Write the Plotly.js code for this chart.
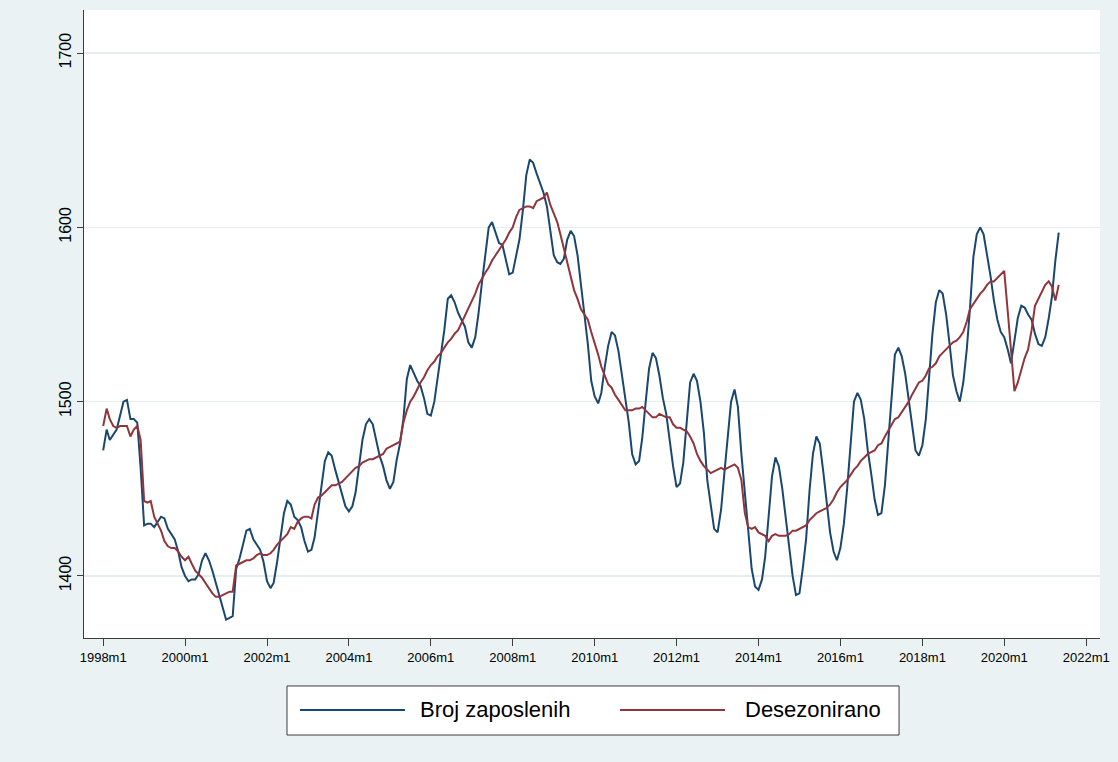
<!DOCTYPE html>
<html><head><meta charset="utf-8">
<script src="https://cdn.plot.ly/plotly-3.0.1.min.js"></script>
<style>html,body{margin:0;padding:0;background:#eaf2f3;} #chart{width:1118px;height:762px;}</style>
</head><body><div id="chart"></div>
<script>
// Monthly data, 1998m1 .. 2021m5
const startYear = 1998;
const brojZaposlenih = [
1472,1484,1478,1481,1484,1492,1500,1501,1490,1490,1488,1462,
1429,1430,1430,1428,1431,1434,1433,1427,1424,1421,1414,1405,
1400,1397,1398,1398,1401,1409,1413,1409,1403,1396,1388,1381,
1375,1376,1377,1404,1410,1418,1426,1427,1421,1418,1415,1408,
1397,1393,1396,1408,1422,1436,1443,1441,1434,1432,1428,1420,
1414,1415,1422,1437,1452,1466,1471,1469,1461,1454,1447,1440,
1437,1440,1448,1462,1478,1487,1490,1487,1477,1469,1463,1455,
1450,1454,1466,1476,1490,1513,1521,1516,1512,1509,1502,1493,
1492,1500,1513,1528,1541,1559,1561,1557,1551,1547,1543,1534,
1531,1537,1550,1568,1585,1600,1603,1597,1591,1590,1581,1573,
1574,1583,1593,1610,1630,1639,1637,1631,1625,1620,1612,1597,
1584,1580,1579,1582,1593,1598,1595,1584,1566,1552,1533,1512,
1503,1499,1505,1520,1532,1540,1538,1529,1516,1503,1488,1470,
1464,1466,1479,1500,1519,1528,1525,1515,1502,1493,1477,1463,
1451,1453,1465,1487,1511,1516,1512,1500,1482,1455,1440,1427,
1425,1438,1458,1480,1500,1507,1497,1470,1446,1424,1404,1394,
1392,1398,1411,1434,1457,1468,1463,1450,1433,1416,1400,1389,
1390,1405,1421,1449,1470,1480,1476,1460,1443,1425,1414,1409,
1416,1430,1450,1475,1500,1505,1501,1490,1472,1459,1444,1435,
1436,1452,1476,1505,1527,1531,1526,1516,1500,1486,1472,1469,
1475,1490,1512,1539,1557,1564,1562,1550,1533,1515,1506,1500,
1511,1530,1553,1583,1596,1600,1596,1585,1572,1558,1547,1540,
1537,1530,1522,1535,1548,1555,1554,1550,1547,1539,1533,1532,
1537,1548,1560,1581,1597
];
const desezonirano = [
1486,1496,1490,1486,1485,1486,1486,1486,1480,1484,1486,1478,
1443,1442,1443,1434,1430,1426,1420,1417,1416,1416,1414,1411,
1409,1411,1407,1403,1401,1399,1396,1393,1390,1388,1388,1389,
1390,1391,1391,1406,1407,1408,1409,1409,1410,1412,1413,1412,
1412,1413,1415,1418,1420,1422,1424,1428,1427,1431,1433,1434,
1434,1433,1441,1445,1446,1448,1450,1452,1452,1453,1454,1456,
1458,1460,1462,1463,1465,1466,1467,1467,1468,1469,1470,1473,
1474,1475,1476,1477,1488,1495,1500,1503,1507,1511,1514,1518,
1521,1523,1526,1528,1531,1534,1536,1539,1541,1545,1549,1553,
1557,1562,1567,1571,1574,1577,1581,1584,1587,1590,1593,1597,
1600,1606,1610,1611,1612,1612,1611,1615,1616,1617,1620,1613,
1608,1603,1596,1588,1580,1571,1564,1559,1553,1550,1547,1540,
1534,1527,1520,1515,1510,1508,1504,1501,1498,1495,1495,1495,
1496,1496,1497,1495,1493,1491,1491,1493,1492,1491,1491,1487,
1485,1485,1484,1483,1480,1476,1470,1466,1463,1461,1459,1460,
1461,1462,1461,1462,1463,1464,1462,1455,1436,1428,1427,1428,
1425,1424,1423,1420,1423,1424,1423,1423,1423,1424,1426,1426,
1427,1428,1429,1432,1434,1436,1437,1438,1439,1441,1444,1448,
1451,1453,1455,1458,1461,1463,1466,1468,1470,1471,1472,1475,
1476,1480,1483,1487,1490,1491,1494,1497,1500,1504,1508,1511,
1512,1515,1519,1520,1522,1526,1528,1530,1532,1534,1535,1537,
1540,1546,1553,1556,1559,1562,1564,1567,1569,1569,1571,1573,
1575,1552,1528,1506,1511,1519,1525,1530,1541,1555,1559,1563,
1567,1569,1566,1558,1567
];
const tickYears = [1998,2000,2002,2004,2006,2008,2010,2012,2014,2016,2018,2020,2022];
const tickLabels = ["1998m1","2000m1","2002m1","2004m1","2006m1","2008m1","2010m1","2012m1","2014m1","2016m1","2018m1","2020m1","2022m1"];
const yTicks = [1400,1500,1600,1700];
const seriesNames = ["Broj zaposlenih","Desezonirano"];
const colors = ["#1a476f","#90353b"];

const months = brojZaposlenih.map((_, i) => {
  const y = startYear + Math.floor(i / 12);
  const m = (i % 12) + 1;
  return y + "-" + String(m).padStart(2, "0") + "-01";
});

const traces = [
  {x: months, y: brojZaposlenih, type: "scatter", mode: "lines", name: seriesNames[0],
   line: {color: colors[0], width: 2}, showlegend: false},
  {x: months, y: desezonirano, type: "scatter", mode: "lines", name: seriesNames[1],
   line: {color: colors[1], width: 2}, showlegend: false}
];

// legend drawn in paper coordinates
const lgY = -0.1146;
const layout = {
  width: 1118, height: 762,
  paper_bgcolor: "#eaf2f3",
  plot_bgcolor: "#ffffff",
  margin: {l: 84, r: 18, t: 10, b: 124},
  font: {family: "Liberation Sans, Arial, sans-serif", color: "#000"},
  showlegend: false,
  xaxis: {
    type: "date",
    range: ["1997-07-14", "2022-05-04"],
    tickvals: tickYears.map(y => y + "-01-01"),
    ticktext: tickLabels,
    tickangle: 0,
    showgrid: false, zeroline: false,
    showline: true, linecolor: "#3c3c3c", linewidth: 1,
    ticks: "outside", ticklen: 7, tickcolor: "#3c3c3c", tickwidth: 1,
    tickfont: {size: 13, color: "#000"}
  },
  yaxis: {
    range: [1364.4, 1724.7],
    tickvals: yTicks,
    tickangle: -90,
    showgrid: true, gridcolor: "#e4eef0", gridwidth: 1.2,
    zeroline: false,
    showline: true, linecolor: "#3c3c3c", linewidth: 1,
    ticks: "outside", ticklen: 6, tickcolor: "#3c3c3c", tickwidth: 1,
    tickfont: {size: 16, color: "#000"}
  },
  shapes: [
    {type: "rect", xref: "paper", yref: "paper", x0: 0.1998, x1: 0.8022, y0: -0.1545, y1: -0.0764,
     fillcolor: "#ffffff", line: {color: "#3c3c3c", width: 1}},
    {type: "line", xref: "paper", yref: "paper", x0: 0.2126, x1: 0.3159, y0: lgY, y1: lgY,
     line: {color: colors[0], width: 2}},
    {type: "line", xref: "paper", yref: "paper", x0: 0.5276, x1: 0.6309, y0: lgY, y1: lgY,
     line: {color: colors[1], width: 2}}
  ],
  annotations: [
    {xref: "paper", yref: "paper", x: 0.3287, y: lgY, xanchor: "left", yanchor: "middle",
     text: seriesNames[0], showarrow: false, font: {size: 22, color: "#000"}},
    {xref: "paper", yref: "paper", x: 0.6486, y: lgY, xanchor: "left", yanchor: "middle",
     text: seriesNames[1], showarrow: false, font: {size: 22, color: "#000"}}
  ]
};

Plotly.newPlot("chart", traces, layout, {staticPlot: true, displayModeBar: false});
</script>
</body></html>
